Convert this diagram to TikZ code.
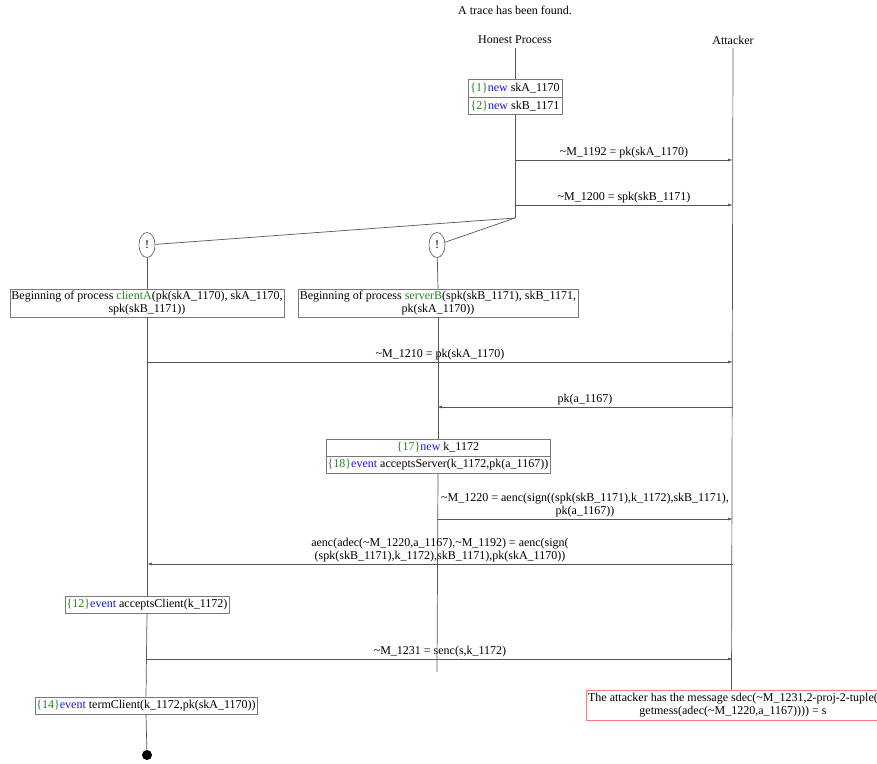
\documentclass[tikz,border=0pt]{standalone}
\usepackage{fontspec}
\setmainfont{Liberation Serif}
\usetikzlibrary{arrows.meta,shapes.geometric}
\definecolor{lblgreen}{RGB}{34,130,34}
\definecolor{lblblue}{RGB}{20,20,255}
\definecolor{linecol}{RGB}{85,85,85}
\definecolor{boxcol}{RGB}{120,120,120}
\definecolor{redbox}{RGB}{255,120,120}
\newcommand\Gn[1]{\textcolor{lblgreen}{\{#1\}}}
\newcommand\Bw[1]{\textcolor{lblblue}{#1}}
\newcommand\Tl{\textasciitilde}
\begin{document}
\begin{tikzpicture}[x=1pt,y=-1pt,
  font=\fontsize{12}{13}\selectfont,
  life/.style={draw=linecol,line width=0.7pt},
  msg/.style={draw=linecol,line width=0.7pt,-{Latex[length=5pt,width=3pt]}},
  evbox/.style={draw=boxcol,line width=0.6pt,rectangle,inner sep=0pt,align=center},
  bang/.style={draw=linecol,line width=0.6pt,ellipse,minimum width=16pt,minimum height=25pt,inner sep=0pt},
  lbl/.style={above,inner sep=1.5pt,align=center}]
\useasboundingbox (0,0) rectangle (877,763);

\node (title) at (515,10) {A trace has been found.};
\node (hp) at (515,40) {Honest Process};
\node (att) at (733,40) {Attacker};

\node[evbox,minimum width=94pt,minimum height=17.5pt] (n1) at (515,88.5) {\Gn{1}\Bw{new} skA\_1170};
\node[evbox,minimum width=94pt,minimum height=17.5pt] (n2) at (515,106) {\Gn{2}\Bw{new} skB\_1171};
\coordinate (split) at (515,218);

\node[bang] (e1) at (147,245) {!};
\node[bang] (e2) at (437,245) {!};

\node[evbox,minimum width=274pt,minimum height=28pt] (bA) at (147,303)
  {Beginning of process \textcolor{lblgreen}{clientA}(pk(skA\_1170), skA\_1170,\\ spk(skB\_1171))};
\node[evbox,minimum width=280pt,minimum height=28pt] (bB) at (438,303)
  {Beginning of process \textcolor{lblgreen}{serverB}(spk(skB\_1171), skB\_1171,\\ pk(skA\_1170))};

\node[evbox,minimum width=224pt,minimum height=17pt] (n17) at (438,447.5) {\Gn{17}\Bw{new} k\_1172};
\node[evbox,minimum width=224pt,minimum height=17pt] (n18) at (438,464.5) {\Gn{18}\Bw{event} acceptsServer(k\_1172,pk(a\_1167))};
\coordinate (endB) at (437,672);

\node[evbox,minimum width=164pt,minimum height=17pt] (ev12) at (147,604.5) {\Gn{12}\Bw{event} acceptsClient(k\_1172)};
\node[evbox,minimum width=222pt,minimum height=17pt] (ev14) at (146,705.5) {\Gn{14}\Bw{event} termClient(k\_1172,pk(skA\_1170))};
\node[circle,fill=black,minimum size=10pt,inner sep=0pt] (endA) at (147,755) {};

\node[rectangle,draw=redbox,line width=0.7pt,minimum width=291pt,minimum height=30pt,inner sep=0pt] (red) at (731.5,705) {};
\node[align=center,inner sep=0pt] (redtxt) at (733,705)
  {The attacker has the message sdec(\Tl M\_1231,2-proj-2-tuple(\\ getmess(adec(\Tl M\_1220,a\_1167)))) = s};

% lifelines
\draw[life] (hp.south) -- (n1.north);
\draw[life] (n2.south) -- (split);
\draw[life] (split) -- (e1);
\draw[life] (split) -- (e2);
\draw[life] (att.south) -- (red.north);
\draw[life] (e1) -- (bA.north);
\draw[life] (e2) -- (bB.north);
\draw[life] (bA.south) -- (ev12.north);
\draw[life] (ev12.south) -- (ev14.north);
\draw[life] (ev14.south) -- (endA);
\draw[life] (bB.south) -- (n17.north);
\draw[life] (n18.south) -- (endB);

% message anchors
\coordinate (h1) at (515,160); \coordinate (a1) at (733,160);
\coordinate (h2) at (515,205); \coordinate (a2) at (733,205);
\coordinate (c3) at (147,362); \coordinate (a3) at (733,362);
\coordinate (a4) at (733,407); \coordinate (s4) at (437,407);
\coordinate (s5) at (437,519); \coordinate (a5) at (733,519);
\coordinate (a6) at (733,564); \coordinate (c6) at (147,564);
\coordinate (c7) at (147,659); \coordinate (a7) at (733,659);

\draw[msg] (h1) -- node[lbl] {\Tl M\_1192 = pk(skA\_1170)} (a1);
\draw[msg] (h2) -- node[lbl] {\Tl M\_1200 = spk(skB\_1171)} (a2);
\draw[msg] (c3) -- node[lbl] {\Tl M\_1210 = pk(skA\_1170)} (a3);
\draw[msg] (a4) -- node[lbl] {pk(a\_1167)} (s4);
\draw[msg] (s5) -- node[lbl] {\Tl M\_1220 = aenc(sign((spk(skB\_1171),k\_1172),skB\_1171),\\ pk(a\_1167))} (a5);
\draw[msg] (a6) -- node[lbl] {aenc(adec(\Tl M\_1220,a\_1167),\Tl M\_1192) = aenc(sign(\\ (spk(skB\_1171),k\_1172),skB\_1171),pk(skA\_1170))} (c6);
\draw[msg] (c7) -- node[lbl] {\Tl M\_1231 = senc(s,k\_1172)} (a7);
\end{tikzpicture}
\end{document}
